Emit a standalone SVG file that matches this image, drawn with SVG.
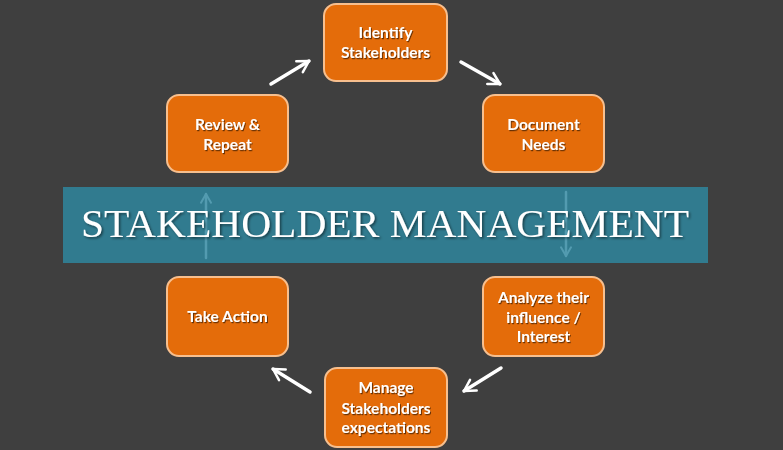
<svg xmlns="http://www.w3.org/2000/svg" width="783" height="450" viewBox="0 0 783 450">
<style>
.box{fill:#e46c0a;stroke:#f7bf8e;stroke-width:2}
.lbl{font-family:Lato,"Open Sans","Liberation Sans",sans-serif;font-weight:bold;font-size:15.5px;fill:#ffffff;text-anchor:middle;filter:url(#sh)}
.title{font-family:"Liberation Serif","Times New Roman",serif;font-size:41px;fill:#ffffff;text-anchor:middle;filter:url(#sh2)}
.arr{stroke:#ffffff;stroke-width:3.5;fill:none;stroke-linecap:round;marker-end:url(#head)}
.faint{stroke:#5fa6bb;stroke-width:2.5;fill:none;stroke-linecap:round;marker-end:url(#fhead);opacity:0.75}
</style>
<defs>
<filter id="sh" x="-20%" y="-30%" width="140%" height="160%">
<feDropShadow dx="1" dy="1.2" stdDeviation="0.6" flood-color="#000" flood-opacity="0.55"/>
</filter>
<filter id="sh2" x="-10%" y="-30%" width="120%" height="160%">
<feDropShadow dx="1.5" dy="1.5" stdDeviation="0.8" flood-color="#000" flood-opacity="0.5"/>
</filter>
<marker id="head" viewBox="0 0 10 10" refX="8" refY="5" markerWidth="4.5" markerHeight="4.5" orient="auto" markerUnits="strokeWidth">
<polyline points="1,1 8,5 1,9" fill="none" stroke="#ffffff" stroke-width="1.6" stroke-linecap="round" stroke-linejoin="round"/>
</marker>
<marker id="fhead" viewBox="0 0 10 10" refX="8" refY="5" markerWidth="5" markerHeight="5" orient="auto" markerUnits="strokeWidth">
<polyline points="1,1 8,5 1,9" fill="none" stroke="#5fa6bb" stroke-width="1.6" stroke-linecap="round" stroke-linejoin="round"/>
</marker>
</defs>
<rect x="0" y="0" width="783" height="450" fill="#3f3f3f"/>

<g id="banner">
<rect x="63" y="187" width="645" height="76" fill="#317b8f"/>
</g>

<g id="connectors">
<line class="faint" x1="206" y1="258" x2="206" y2="194"/>
<line class="faint" x1="566" y1="192" x2="566" y2="256"/>
<line class="arr" x1="271" y1="84" x2="309" y2="61"/>
<line class="arr" x1="461" y1="62" x2="500" y2="84"/>
<line class="arr" x1="501" y1="368" x2="464" y2="391"/>
<line class="arr" x1="310" y1="392" x2="273" y2="369"/>
</g>

<g id="title">
<text class="title" x="385" y="237" textLength="608" lengthAdjust="spacingAndGlyphs">STAKEHOLDER MANAGEMENT</text>
</g>

<g id="identify">
<rect class="box" x="324" y="4" width="123" height="77" rx="12"/>
<text class="lbl" x="385.5" y="38">Identify</text>
<text class="lbl" x="385.5" y="58">Stakeholders</text>
</g>
<g id="document">
<rect class="box" x="483" y="95" width="121" height="77" rx="12"/>
<text class="lbl" x="543.5" y="130">Document</text>
<text class="lbl" x="543.5" y="150">Needs</text>
</g>
<g id="analyze">
<rect class="box" x="483" y="277" width="121" height="79" rx="12"/>
<text class="lbl" x="543.5" y="303">Analyze their</text>
<text class="lbl" x="543.5" y="323">influence /</text>
<text class="lbl" x="543.5" y="342">Interest</text>
</g>
<g id="manage">
<rect class="box" x="325" y="368" width="122" height="79" rx="12"/>
<text class="lbl" x="386" y="393">Manage</text>
<text class="lbl" x="386" y="414">Stakeholders</text>
<text class="lbl" x="386" y="433">expectations</text>
</g>
<g id="take-action">
<rect class="box" x="167" y="277" width="121" height="79" rx="12"/>
<text class="lbl" x="227.5" y="322">Take Action</text>
</g>
<g id="review">
<rect class="box" x="167" y="95" width="121" height="77" rx="12"/>
<text class="lbl" x="227.5" y="130">Review &amp;</text>
<text class="lbl" x="227.5" y="150">Repeat</text>
</g>
</svg>
